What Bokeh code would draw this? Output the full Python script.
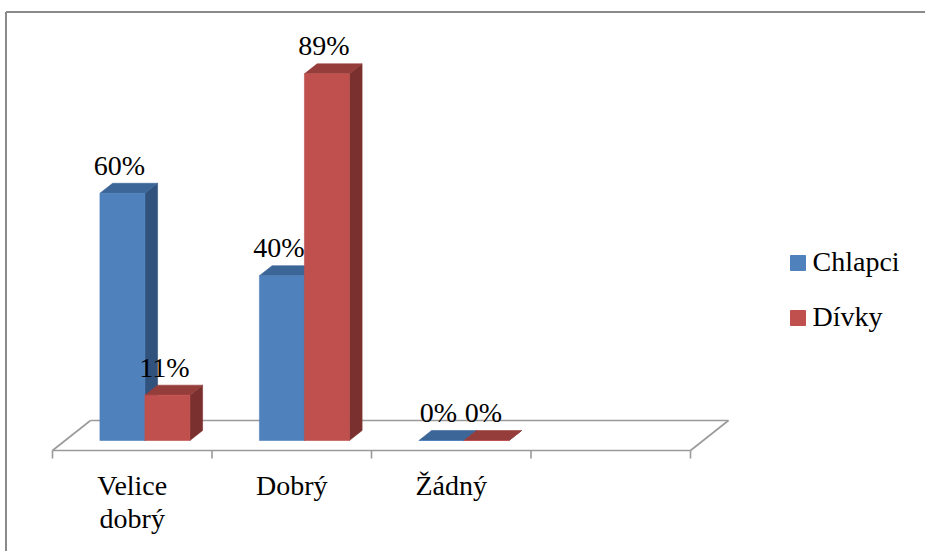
from bokeh.plotting import figure
from bokeh.models import Range1d
from bokeh.embed import file_html
from bokeh.resources import INLINE
from bokeh.core.properties import value

# ---------------- data ----------------
categories = ["Velice dobrý", "Dobrý", "Žádný", ""]
category_lines = [["Velice", "dobrý"], ["Dobrý"], ["Žádný"], []]
series_names = ["Chlapci", "Dívky"]
chlapci = [60, 40, 0]
divky = [11, 89, 0]
label_fmt = "{}%"

# ---------------- styling / layout (pixels) ----------------
W, H = 925, 551
MARGIN = 0
X0 = 52.0        # page x of floor front-left corner
CAT = 159.5      # px per category
Y0 = 450.0       # page y of floor front edge (0 %)
PCT = 4.12       # px per percent
DEPTH_X = 38.0   # floor depth offset, px
DEPTH_Y = 30.0
BAR_W = 45.0
FONT = value("Liberation Serif")
FSIZE = "28px"
TEXT_LIFT = 10.0  # baseline correction, px

front_cols = ["#4F81BD", "#C0504D"]
top_cols = ["#3D6698", "#953D3A"]
side_cols = ["#30527C", "#7A302E"]
grid_col = "#9A9A9A"


def px_x(page_x):
    return (page_x - X0) / CAT


def px_y(page_y):
    return (Y0 - page_y) / PCT


p = figure(width=W, height=H, output_backend="svg", toolbar_location=None,
           x_range=Range1d(px_x(MARGIN), px_x(MARGIN + W)),
           y_range=Range1d(px_y(MARGIN + H), px_y(MARGIN)),
           x_axis_type=None, y_axis_type=None,
           min_border=0, min_border_left=0, min_border_right=0,
           min_border_top=0, min_border_bottom=0)
p.outline_line_color = None
p.xgrid.visible = False
p.ygrid.visible = False
p.background_fill_color = "white"
p.border_fill_color = "white"

# chart frame (top and left edges visible in the crop)
p.segment(x0=[px_x(5.5), px_x(5.5)], y0=[px_y(11.5), px_y(11.5)],
          x1=[px_x(MARGIN + W), px_x(5.5)], y1=[px_y(11.5), px_y(MARGIN + H)],
          line_color="#8A8A8A", line_width=2)

# floor
n_cat = len(categories)
dxu = DEPTH_X / CAT
dyu = DEPTH_Y / PCT
floor_xs = [[0, n_cat], [dxu, n_cat + dxu], [0, dxu], [n_cat, n_cat + dxu]]
floor_ys = [[0, 0], [dyu, dyu], [0, dyu], [0, dyu]]
tick_len = 8 / PCT
for k in range(n_cat + 1):
    floor_xs.append([k, k])
    floor_ys.append([0, -tick_len])
p.multi_line(xs=floor_xs, ys=floor_ys, line_color=grid_col, line_width=1.6)

# bars (3D)
bw = BAR_W / CAT
ddx = dxu / 3
ddy = dyu / 3
xs, ys, cols = [], [], []
lab_x, lab_y, lab_t = [], [], []
for i, vals in enumerate(zip(chlapci, divky)):
    for s, v in enumerate(vals):
        xl = i + 0.5 - bw + s * bw + ddx
        yb = ddy
        yt = v + ddy
        # side
        xs.append([xl + bw, xl + bw + ddx, xl + bw + ddx, xl + bw])
        ys.append([yb, yb + ddy, yt + ddy, yt])
        cols.append(side_cols[s])
        # top
        xs.append([xl, xl + bw, xl + bw + ddx, xl + ddx])
        ys.append([yt, yt, yt + ddy, yt + ddy])
        cols.append(top_cols[s])
        # front
        xs.append([xl, xl + bw, xl + bw, xl])
        ys.append([yb, yb, yt, yt])
        cols.append(front_cols[s])
        lab_x.append(xl + bw / 2 - 3 / CAT)
        lab_y.append(yt + ddy + (8 + TEXT_LIFT) / PCT)
        lab_t.append(label_fmt.format(v))

p.patches(xs=xs, ys=ys, fill_color=cols, line_color=cols, line_width=0.6)

p.text(x=lab_x, y=lab_y, text=lab_t, text_font=FONT, text_font_size=FSIZE,
       text_align="center", text_baseline="alphabetic", text_color="black")

# category labels
cx, cy, ct = [], [], []
for i, lines in enumerate(category_lines):
    for j, line in enumerate(lines):
        cx.append(i + 0.5)
        cy.append(px_y(495 + 33 * j - TEXT_LIFT))
        ct.append(line)
p.text(x=cx, y=cy, text=ct, text_font=FONT, text_font_size=FSIZE,
       text_align="center", text_baseline="alphabetic", text_color="black")

# legend
leg_top = [255, 310]
p.quad(left=[px_x(790)] * 2, right=[px_x(805)] * 2,
       top=[px_y(t) for t in leg_top], bottom=[px_y(t + 15) for t in leg_top],
       fill_color=front_cols, line_color=front_cols)
p.text(x=[px_x(812)] * 2, y=[px_y(t + 16 - TEXT_LIFT) for t in leg_top], text=series_names,
       text_font=FONT, text_font_size=FSIZE, text_align="left",
       text_baseline="alphabetic", text_color="black")

open("out.html", "w").write(file_html(p, INLINE))
